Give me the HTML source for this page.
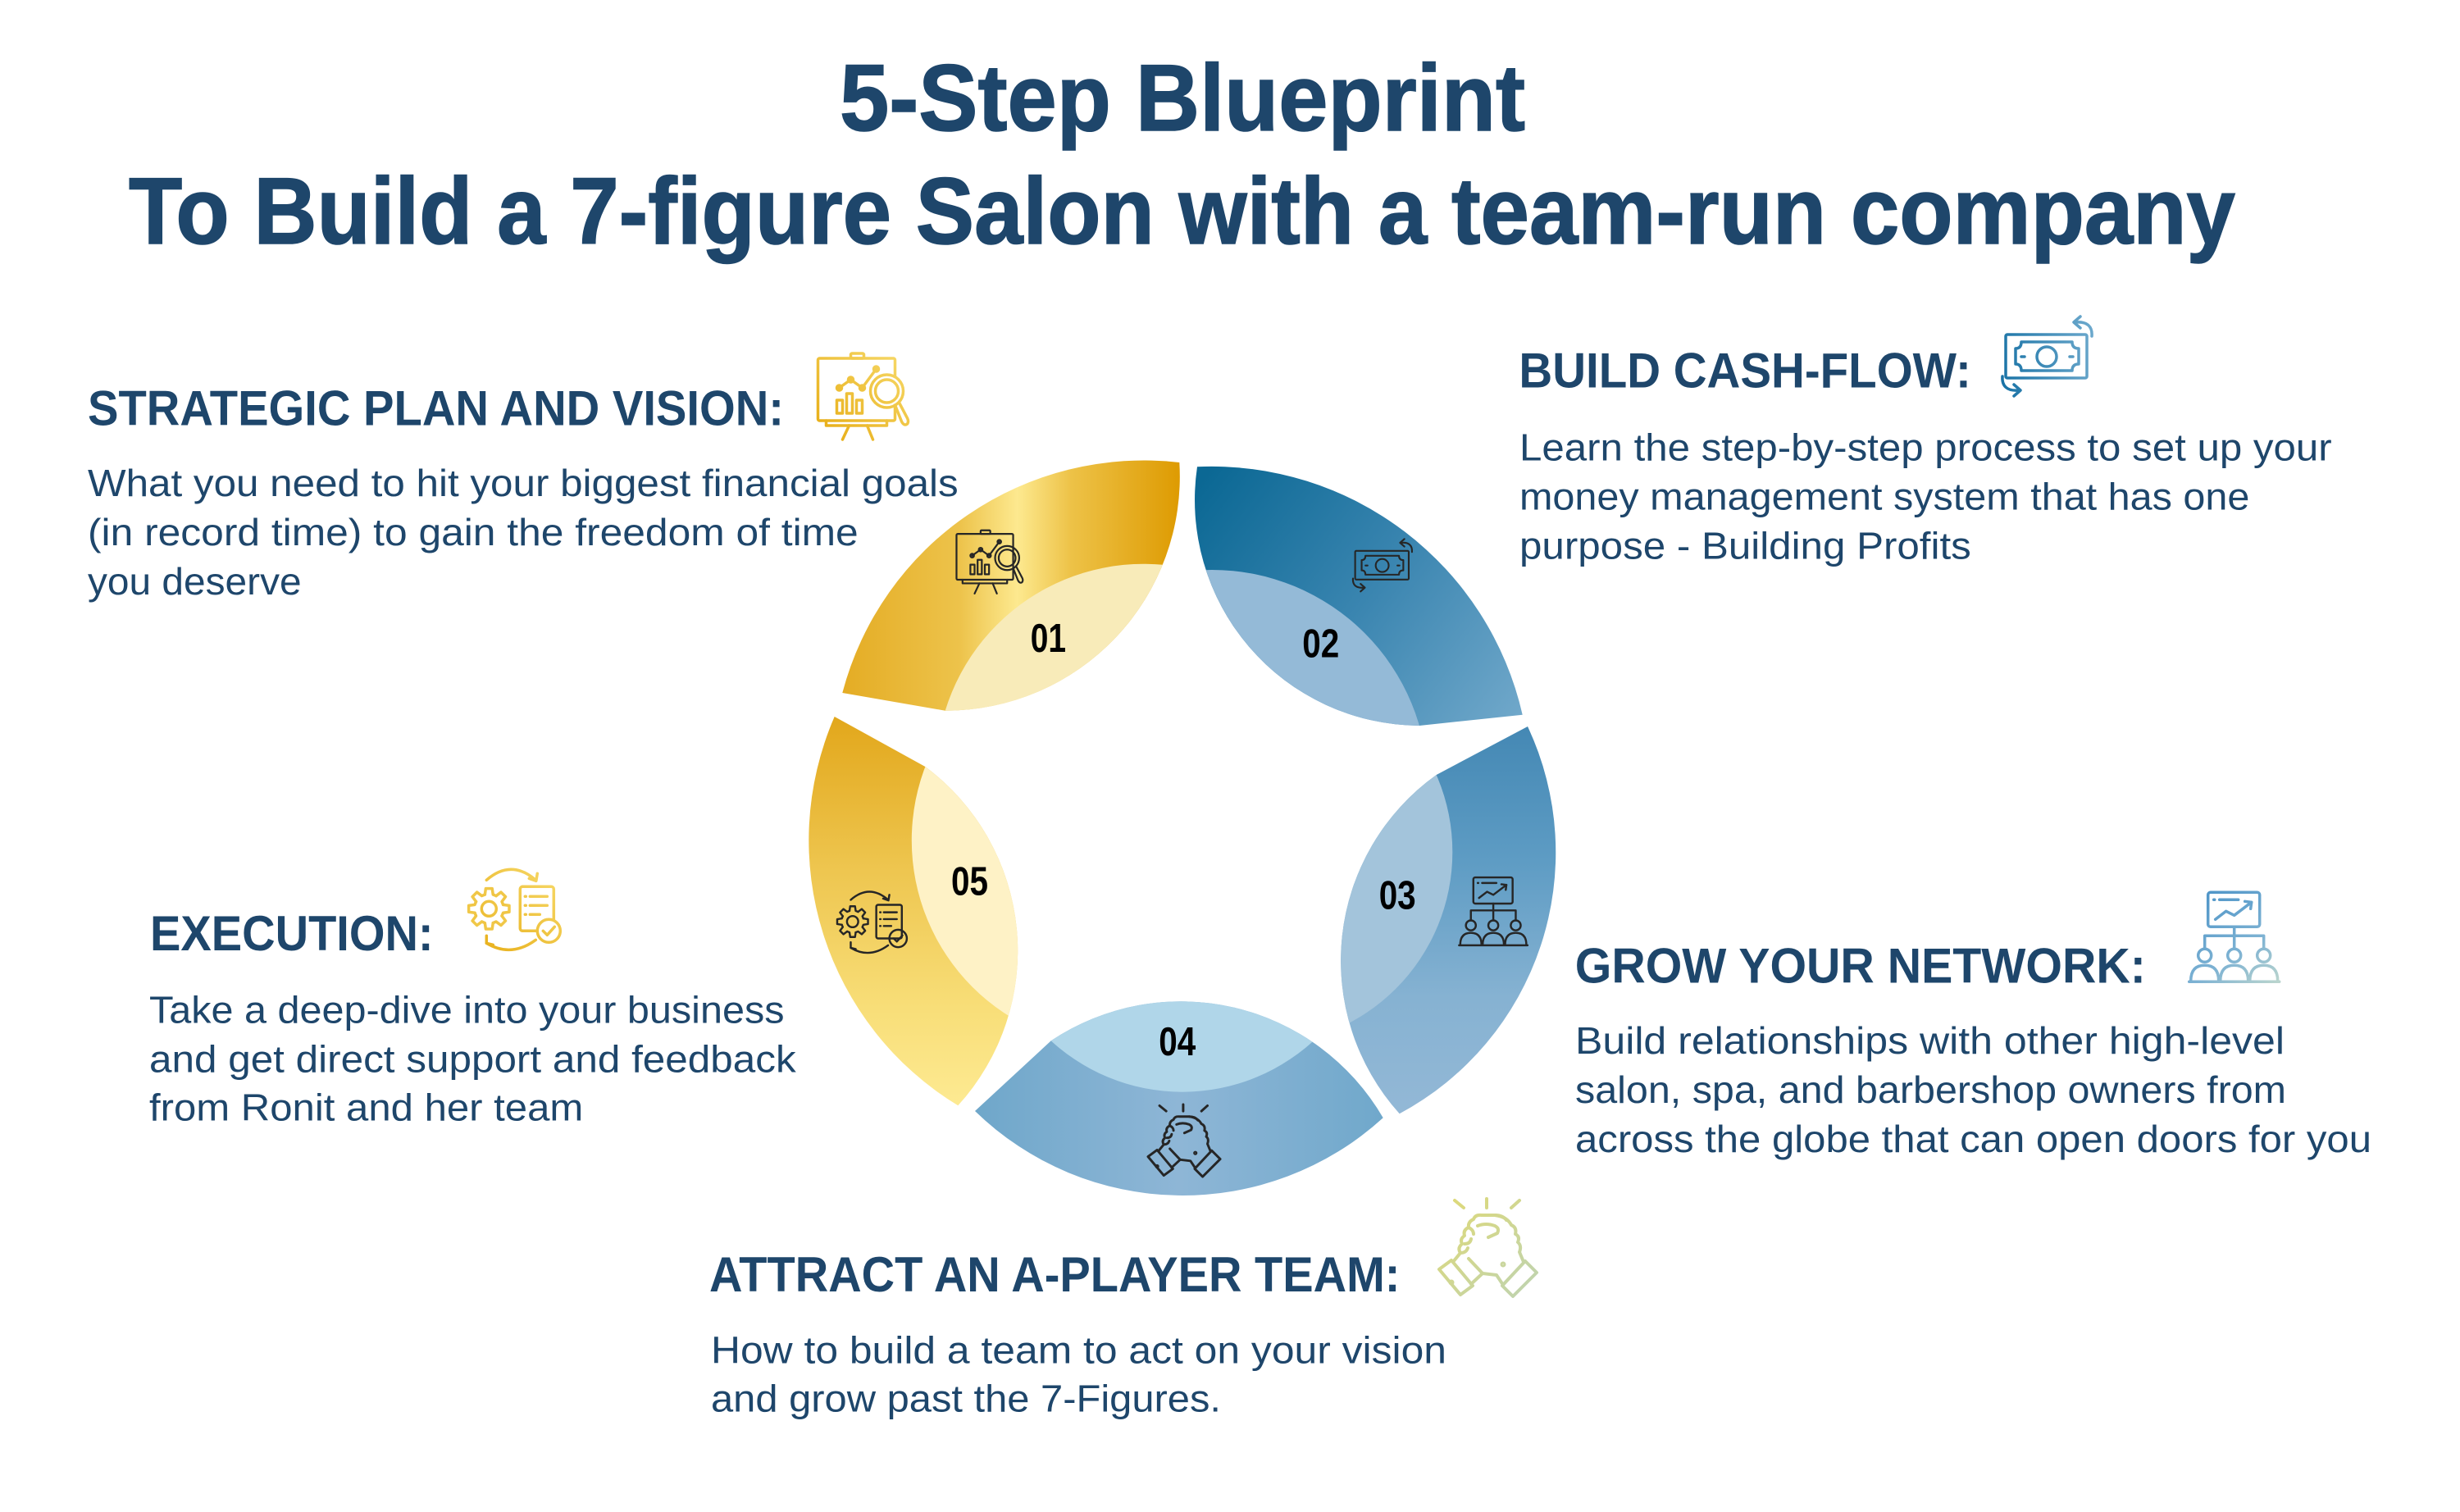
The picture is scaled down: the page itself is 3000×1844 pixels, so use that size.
<!DOCTYPE html>
<html><head><meta charset="utf-8"><style>
html,body{margin:0;padding:0;background:#fff;}
svg{display:block;}
.t{font-family:"Liberation Sans",Arial,sans-serif;fill:#1e466b;}
.ti{font-weight:bold;font-size:115px;stroke:#1e466b;stroke-width:1.5px;}
.h{font-weight:bold;font-size:60px;}
.b{font-size:46px;}
.n{font-family:"Liberation Sans Narrow","Liberation Sans",sans-serif;font-weight:bold;font-size:49px;fill:#000;}
</style></head><body>
<svg xmlns="http://www.w3.org/2000/svg" width="3000" height="1844" viewBox="0 0 3000 1844">
<rect width="3000" height="1844" fill="#fff"/>
<defs>
<linearGradient id="g1" gradientUnits="userSpaceOnUse" x1="1027" y1="0" x2="1438" y2="0">
<stop offset="0" stop-color="#E4AC24"/><stop offset="0.35" stop-color="#EDC34B"/><stop offset="0.52" stop-color="#FDE98F"/><stop offset="0.68" stop-color="#EDC247"/><stop offset="1" stop-color="#DE9B02"/>
</linearGradient>
<linearGradient id="g2" gradientUnits="userSpaceOnUse" x1="1470" y1="580" x2="1860" y2="880">
<stop offset="0" stop-color="#0B6894"/><stop offset="0.5" stop-color="#3A85B0"/><stop offset="1" stop-color="#72A9CB"/>
</linearGradient>
<linearGradient id="g3" gradientUnits="userSpaceOnUse" x1="0" y1="886" x2="0" y2="1358">
<stop offset="0" stop-color="#4488B4"/><stop offset="0.35" stop-color="#5E9CC4"/><stop offset="0.7" stop-color="#86B2D2"/><stop offset="1" stop-color="#93B8D6"/>
</linearGradient>
<linearGradient id="g4" gradientUnits="userSpaceOnUse" x1="1189" y1="0" x2="1687" y2="0">
<stop offset="0" stop-color="#6FA7CA"/><stop offset="0.5" stop-color="#8EB6D6"/><stop offset="1" stop-color="#70A8CB"/>
</linearGradient>
<linearGradient id="g5" gradientUnits="userSpaceOnUse" x1="0" y1="874" x2="0" y2="1348">
<stop offset="0" stop-color="#E2A71B"/><stop offset="0.4" stop-color="#EEC650"/><stop offset="0.75" stop-color="#F8DE78"/><stop offset="1" stop-color="#FDEA92"/>
</linearGradient>
<linearGradient id="gold" gradientUnits="userSpaceOnUse" x1="0" y1="110" x2="110" y2="0">
<stop offset="0" stop-color="#E6AA10"/><stop offset="1" stop-color="#F7DA6B"/>
</linearGradient>
<linearGradient id="blue" gradientUnits="userSpaceOnUse" x1="0" y1="60" x2="115" y2="40">
<stop offset="0" stop-color="#1A73A6"/><stop offset="1" stop-color="#6BA8CC"/>
</linearGradient>
<linearGradient id="lblue" gradientUnits="userSpaceOnUse" x1="20" y1="0" x2="100" y2="115">
<stop offset="0" stop-color="#4F95C8"/><stop offset="0.6" stop-color="#7DB2D3"/><stop offset="1" stop-color="#B9D4CE"/>
</linearGradient>
<linearGradient id="pale" gradientUnits="userSpaceOnUse" x1="0" y1="0" x2="136" y2="136">
<stop offset="0" stop-color="#E2DA72"/><stop offset="1" stop-color="#BCD3B6"/>
</linearGradient>
<clipPath id="c1"><path d="M1027.3,845 A380,380 0 0 1 1438.3,564 A285.5,285.5 0 0 1 1152.7,866.7 Z"/></clipPath>
<clipPath id="c2"><path d="M1460,569.3 A389,389 0 0 1 1856.7,871.7 L1731,885 A275.3,275.3 0 0 1 1460,569.3 Z"/></clipPath>
<clipPath id="c3"><path d="M1863,886 A361.7,361.7 0 0 1 1706.7,1358.3 A278.8,278.8 0 0 1 1751.7,945 Z"/></clipPath>
<clipPath id="c4"><path d="M1686.7,1363.3 A363,363 0 0 1 1189,1355 L1281.7,1269.3 A285.1,285.1 0 0 1 1686.7,1363.3 Z"/></clipPath>
<clipPath id="c5"><path d="M1168.3,1348.3 A378.4,378.4 0 0 1 1017.7,874 L1128.3,935 A280.2,280.2 0 0 1 1168.3,1348.3 Z"/></clipPath>
</defs>

<!-- Title -->
<text class="t ti" x="1024" y="159" textLength="836" lengthAdjust="spacingAndGlyphs">5-Step Blueprint</text>
<text class="t ti" x="157" y="297" textLength="2569" lengthAdjust="spacingAndGlyphs">To Build a 7-figure Salon with a team-run company</text>

<!-- Petals -->
<path d="M1027.3,845 A380,380 0 0 1 1438.3,564 A285.5,285.5 0 0 1 1152.7,866.7 Z" fill="url(#g1)"/>
<circle cx="1395" cy="941.2" r="253.5" fill="#F8EBB9" clip-path="url(#c1)"/>
<path d="M1460,569.3 A389,389 0 0 1 1856.7,871.7 L1731,885 A275.3,275.3 0 0 1 1460,569.3 Z" fill="url(#g2)"/>
<circle cx="1478" cy="958.4" r="263.4" fill="#94BAD7" clip-path="url(#c2)"/>
<path d="M1863,886 A361.7,361.7 0 0 1 1706.7,1358.3 A278.8,278.8 0 0 1 1751.7,945 Z" fill="url(#g3)"/>
<circle cx="1535.7" cy="1039.1" r="235.6" fill="#A3C4DB" clip-path="url(#c3)"/>
<path d="M1686.7,1363.3 A363,363 0 0 1 1189,1355 L1281.7,1269.3 A285.1,285.1 0 0 1 1686.7,1363.3 Z" fill="url(#g4)"/>
<circle cx="1441.8" cy="1095" r="236.7" fill="#B0D6E9" clip-path="url(#c4)"/>
<path d="M1168.3,1348.3 A378.4,378.4 0 0 1 1017.7,874 L1128.3,935 A280.2,280.2 0 0 1 1168.3,1348.3 Z" fill="url(#g5)"/>
<circle cx="1364.7" cy="1024.9" r="252.9" fill="#FEF2C6" clip-path="url(#c5)"/>

<!-- Numbers -->
<text class="n" x="1256.7" y="795" textLength="43.3" lengthAdjust="spacingAndGlyphs">01</text>
<text class="n" x="1588.3" y="801.7" textLength="45" lengthAdjust="spacingAndGlyphs">02</text>
<text class="n" x="1681.7" y="1108.3" textLength="45" lengthAdjust="spacingAndGlyphs">03</text>
<text class="n" x="1413.3" y="1287" textLength="45" lengthAdjust="spacingAndGlyphs">04</text>
<text class="n" x="1160" y="1091.7" textLength="45" lengthAdjust="spacingAndGlyphs">05</text>

<!-- Petal icons -->
<g transform="translate(1165,646) scale(0.735)" fill="none" stroke="#262626" stroke-width="3" stroke-linecap="round" stroke-linejoin="round">
<rect x="2" y="7" width="94" height="76" rx="2"/><rect x="42" y="1" width="16" height="6" rx="1.5"/>
<path d="M12,83 V89 H86 V83"/><path d="M40,89 L32,106 M62,89 L69,106"/>
<rect x="25" y="58" width="7" height="16"/><rect x="37" y="50" width="7" height="24"/><rect x="49" y="58" width="7" height="16"/>
<path d="M28,43 L42,33 L56,43 L73,20"/><circle cx="28" cy="43" r="3"/><circle cx="42" cy="33" r="3"/><circle cx="56" cy="43" r="3"/><circle cx="73" cy="20" r="3"/>
<circle cx="86" cy="47" r="20"/><circle cx="86" cy="47" r="14"/>
<path d="M96,64 L104,84 Q107,90 111,87 Q113,84 111,80 L101,61"/>
</g>
<g transform="translate(1648,656) scale(0.66)" fill="none" stroke="#262626" stroke-width="3.2" stroke-linecap="round" stroke-linejoin="round">
<rect x="7" y="24" width="99" height="53" rx="2"/>
<path d="M26,33 H88 Q88,41 96,41 V60 Q88,60 88,68 H26 Q26,60 19,60 V41 Q26,41 26,33 Z"/>
<circle cx="57" cy="51" r="12"/><path d="M26,51 H30 M85,51 H89"/>
<path d="M112,26 C113,14 106,8 93,9"/><path d="M98,2 L90,9 L98,16"/>
<path d="M3,75 C2,87 9,93 22,92"/><path d="M17,85 L25,92 L17,99"/>
</g>
<g transform="translate(1779.3,1069.3) scale(0.76)" fill="none" stroke="#262626" stroke-width="3.2" stroke-linecap="round" stroke-linejoin="round">
<rect x="23" y="1" width="63" height="42" rx="3"/><path d="M30,10 H31 M37,10 H60"/>
<path d="M32,34 L45,24 L55,29 L76,13"/><path d="M68,12 L76,13 L75,21"/>
<path d="M55,43 V54 M19,70 V54 H91 V70 M55,54 V70"/>
<circle cx="19" cy="78" r="8"/><circle cx="55" cy="78" r="8"/><circle cx="91" cy="78" r="8"/>
<path d="M2,109 Q2,90 19,90 Q36,90 36,109 M38,109 Q38,90 55,90 Q72,90 72,109 M74,109 Q74,90 91,90 Q108,90 108,109"/>
<path d="M0,110 H110"/>
</g>
<!-- hands (petal) -->
<g transform="translate(1392.6,1341.8) scale(0.74)" fill="none" stroke="#262626" stroke-width="4" stroke-linecap="round" stroke-linejoin="round">
<path d="M29,9 L40,18 M68,7 V18 M108,9 L98,18"/>
<path d="M10,93 L25,82 L51,113 L36,124 Z"/>
<path d="M115,83 L129,97 L100,126 L87,113 Z"/>
<path d="M27,84 L36,73 Q32,67 38,62 Q35,56 41,52 Q39,45 46,42 Q45,35 52,32 Q54,26 62,27 L78,27 Q88,27 92,33"/>
<path d="M78,27 Q93,29 98,39 Q105,42 103,50 Q109,53 106,60 Q111,64 108,72 L113,84"/>
<path d="M49,111 L63,98 L80,100 L88,112"/>
<path d="M36,73 Q43,73 45,67 M41,62 Q48,62 49,56 M46,42 Q52,45 52,50 M57,40 Q67,36 78,40 Q84,43 81,49 L70,54"/>
<path d="M46,80 L63,98"/>
<circle cx="88" cy="87" r="1.5"/><circle cx="25" cy="109" r="1.5"/>
</g>
<g transform="translate(1020,1086) scale(0.76)" fill="none" stroke="#262626" stroke-width="3.2" stroke-linecap="round" stroke-linejoin="round">
<g transform="translate(26,50)">
<path d="M17.3,-4.96 L24.69,-3.91 L24.69,3.91 L17.3,4.96 L15.74,8.73"/>
<path transform="rotate(45)" d="M17.3,-4.96 L24.69,-3.91 L24.69,3.91 L17.3,4.96 L15.74,8.73"/>
<path transform="rotate(90)" d="M17.3,-4.96 L24.69,-3.91 L24.69,3.91 L17.3,4.96 L15.74,8.73"/>
<path transform="rotate(135)" d="M17.3,-4.96 L24.69,-3.91 L24.69,3.91 L17.3,4.96 L15.74,8.73"/>
<path transform="rotate(180)" d="M17.3,-4.96 L24.69,-3.91 L24.69,3.91 L17.3,4.96 L15.74,8.73"/>
<path transform="rotate(225)" d="M17.3,-4.96 L24.69,-3.91 L24.69,3.91 L17.3,4.96 L15.74,8.73"/>
<path transform="rotate(270)" d="M17.3,-4.96 L24.69,-3.91 L24.69,3.91 L17.3,4.96 L15.74,8.73"/>
<path transform="rotate(315)" d="M17.3,-4.96 L24.69,-3.91 L24.69,3.91 L17.3,4.96 L15.74,8.73"/>
<circle r="9"/>
</g>
<rect x="64" y="23" width="41" height="54" rx="3"/>
<path d="M70,35 H71 M76,35 H97 M70,46 H71 M76,46 H97 M70,57 H71 M76,57 H88"/>
<circle cx="99" cy="77" r="14"/><path d="M92,77 L97,82 L106,72"/>
<path d="M23,15 Q53,-11 83,15"/><path d="M75,13 L83.5,16 L85,7"/>
<path d="M83,88 Q53,110 23,92"/><path d="M31,94 L23,92 L23,83"/>
</g>

<!-- Heading icons -->
<g transform="translate(995.5,430)" fill="none" stroke="url(#gold)" stroke-width="3.5" stroke-linecap="round" stroke-linejoin="round">
<rect x="2" y="7" width="94" height="76" rx="2"/><rect x="42" y="1" width="16" height="6" rx="1.5"/>
<path d="M12,83 V89 H86 V83"/><path d="M40,89 L32,106 M62,89 L69,106"/>
<rect x="25" y="58" width="7" height="16"/><rect x="37" y="50" width="7" height="24"/><rect x="49" y="58" width="7" height="16"/>
<path d="M28,43 L42,33 L56,43 L73,20"/><circle cx="28" cy="43" r="3"/><circle cx="42" cy="33" r="3"/><circle cx="56" cy="43" r="3"/><circle cx="73" cy="20" r="3"/>
<circle cx="86" cy="47" r="20" fill="#fff"/><circle cx="86" cy="47" r="14"/>
<path d="M96,64 L104,84 Q107,90 111,87 Q113,84 111,80 L101,61"/>
</g>
<g transform="translate(2439,384)" fill="none" stroke="url(#blue)" stroke-width="3.5" stroke-linecap="round" stroke-linejoin="round">
<rect x="7" y="24" width="99" height="53" rx="2"/>
<path d="M26,33 H88 Q88,41 96,41 V60 Q88,60 88,68 H26 Q26,60 19,60 V41 Q26,41 26,33 Z"/>
<circle cx="57" cy="51" r="12"/><path d="M26,51 H30 M85,51 H89"/>
<path d="M112,26 C113,14 106,8 93,9"/><path d="M98,2 L90,9 L98,16"/>
<path d="M3,75 C2,87 9,93 22,92"/><path d="M17,85 L25,92 L17,99"/>
</g>
<g transform="translate(570.3,1058.3)" fill="none" stroke="url(#gold)" stroke-width="3.5" stroke-linecap="round" stroke-linejoin="round">
<g transform="translate(26,50)">
<path d="M17.3,-4.96 L24.69,-3.91 L24.69,3.91 L17.3,4.96 L15.74,8.73"/>
<path transform="rotate(45)" d="M17.3,-4.96 L24.69,-3.91 L24.69,3.91 L17.3,4.96 L15.74,8.73"/>
<path transform="rotate(90)" d="M17.3,-4.96 L24.69,-3.91 L24.69,3.91 L17.3,4.96 L15.74,8.73"/>
<path transform="rotate(135)" d="M17.3,-4.96 L24.69,-3.91 L24.69,3.91 L17.3,4.96 L15.74,8.73"/>
<path transform="rotate(180)" d="M17.3,-4.96 L24.69,-3.91 L24.69,3.91 L17.3,4.96 L15.74,8.73"/>
<path transform="rotate(225)" d="M17.3,-4.96 L24.69,-3.91 L24.69,3.91 L17.3,4.96 L15.74,8.73"/>
<path transform="rotate(270)" d="M17.3,-4.96 L24.69,-3.91 L24.69,3.91 L17.3,4.96 L15.74,8.73"/>
<path transform="rotate(315)" d="M17.3,-4.96 L24.69,-3.91 L24.69,3.91 L17.3,4.96 L15.74,8.73"/>
<circle r="9"/>
</g>
<rect x="64" y="23" width="41" height="54" rx="3"/>
<path d="M70,35 H71 M76,35 H97 M70,46 H71 M76,46 H97 M70,57 H71 M76,57 H88"/>
<circle cx="99" cy="77" r="14" fill="#fff"/><path d="M92,77 L97,82 L106,72"/>
<path d="M23,15 Q53,-11 83,15"/><path d="M75,13 L83.5,16 L85,7"/>
<path d="M83,88 Q53,110 23,92"/><path d="M31,94 L23,92 L23,83"/>
</g>
<g transform="translate(2669.7,1087.3)" fill="none" stroke="url(#lblue)" stroke-width="3.5" stroke-linecap="round" stroke-linejoin="round">
<rect x="23" y="1" width="63" height="42" rx="3"/><path d="M30,10 H31 M37,10 H60"/>
<path d="M32,34 L45,24 L55,29 L76,13"/><path d="M68,12 L76,13 L75,21"/>
<path d="M55,43 V54 M19,70 V54 H91 V70 M55,54 V70"/>
<circle cx="19" cy="78" r="8"/><circle cx="55" cy="78" r="8"/><circle cx="91" cy="78" r="8"/>
<path d="M2,109 Q2,90 19,90 Q36,90 36,109 M38,109 Q38,90 55,90 Q72,90 72,109 M74,109 Q74,90 91,90 Q108,90 108,109"/>
<path d="M0,110 H110"/>
</g>
<!-- hands (heading) -->
<g transform="translate(1745,1455)" fill="none" stroke="url(#pale)" stroke-width="4" stroke-linecap="round" stroke-linejoin="round">
<path d="M29,9 L40,18 M68,7 V18 M108,9 L98,18"/>
<path d="M10,93 L25,82 L51,113 L36,124 Z"/>
<path d="M115,83 L129,97 L100,126 L87,113 Z"/>
<path d="M27,84 L36,73 Q32,67 38,62 Q35,56 41,52 Q39,45 46,42 Q45,35 52,32 Q54,26 62,27 L78,27 Q88,27 92,33"/>
<path d="M78,27 Q93,29 98,39 Q105,42 103,50 Q109,53 106,60 Q111,64 108,72 L113,84"/>
<path d="M49,111 L63,98 L80,100 L88,112"/>
<path d="M36,73 Q43,73 45,67 M41,62 Q48,62 49,56 M46,42 Q52,45 52,50 M57,40 Q67,36 78,40 Q84,43 81,49 L70,54"/>
<path d="M46,80 L63,98"/>
<circle cx="88" cy="87" r="1.5"/><circle cx="25" cy="109" r="1.5"/>
</g>

<!-- Headings -->
<text class="t h" x="107" y="518.3" textLength="849" lengthAdjust="spacingAndGlyphs">STRATEGIC PLAN AND VISION:</text>
<text class="t h" x="1852.4" y="472.7" textLength="551.4" lengthAdjust="spacingAndGlyphs">BUILD CASH-FLOW:</text>
<text class="t h" x="183" y="1159" textLength="345.6" lengthAdjust="spacingAndGlyphs">EXECUTION:</text>
<text class="t h" x="1920.8" y="1198.3" textLength="696" lengthAdjust="spacingAndGlyphs">GROW YOUR NETWORK:</text>
<text class="t h" x="865" y="1575" textLength="842.4" lengthAdjust="spacingAndGlyphs">ATTRACT AN A-PLAYER TEAM:</text>

<!-- Body texts -->
<text class="t b" x="107" y="605" textLength="1061.7" lengthAdjust="spacingAndGlyphs">What you need to hit your biggest financial goals</text>
<text class="t b" x="107" y="665" textLength="939.7" lengthAdjust="spacingAndGlyphs">(in record time) to gain the freedom of time</text>
<text class="t b" x="107" y="725" textLength="260.6" lengthAdjust="spacingAndGlyphs">you deserve</text>

<text class="t b" x="1853" y="561.7" textLength="990.7" lengthAdjust="spacingAndGlyphs">Learn the step-by-step process to set up your</text>
<text class="t b" x="1853" y="621.7" textLength="890.4" lengthAdjust="spacingAndGlyphs">money management system that has one</text>
<text class="t b" x="1853" y="681.7" textLength="550.8" lengthAdjust="spacingAndGlyphs">purpose - Building Profits</text>

<text class="t b" x="182" y="1247.3" textLength="774.5" lengthAdjust="spacingAndGlyphs">Take a deep-dive into your business</text>
<text class="t b" x="182" y="1307.3" textLength="788.7" lengthAdjust="spacingAndGlyphs">and get direct support and feedback</text>
<text class="t b" x="182" y="1366.7" textLength="529.3" lengthAdjust="spacingAndGlyphs">from Ronit and her team</text>

<text class="t b" x="1921" y="1285" textLength="865" lengthAdjust="spacingAndGlyphs">Build relationships with other high-level</text>
<text class="t b" x="1921" y="1345" textLength="867" lengthAdjust="spacingAndGlyphs">salon, spa, and barbershop owners from</text>
<text class="t b" x="1921" y="1405" textLength="971" lengthAdjust="spacingAndGlyphs">across the globe that can open doors for you</text>

<text class="t b" x="867" y="1662.3" textLength="897" lengthAdjust="spacingAndGlyphs">How to build a team to act on your vision</text>
<text class="t b" x="867" y="1721.7" textLength="622" lengthAdjust="spacingAndGlyphs">and grow past the 7-Figures.</text>
</svg>
</body></html>
